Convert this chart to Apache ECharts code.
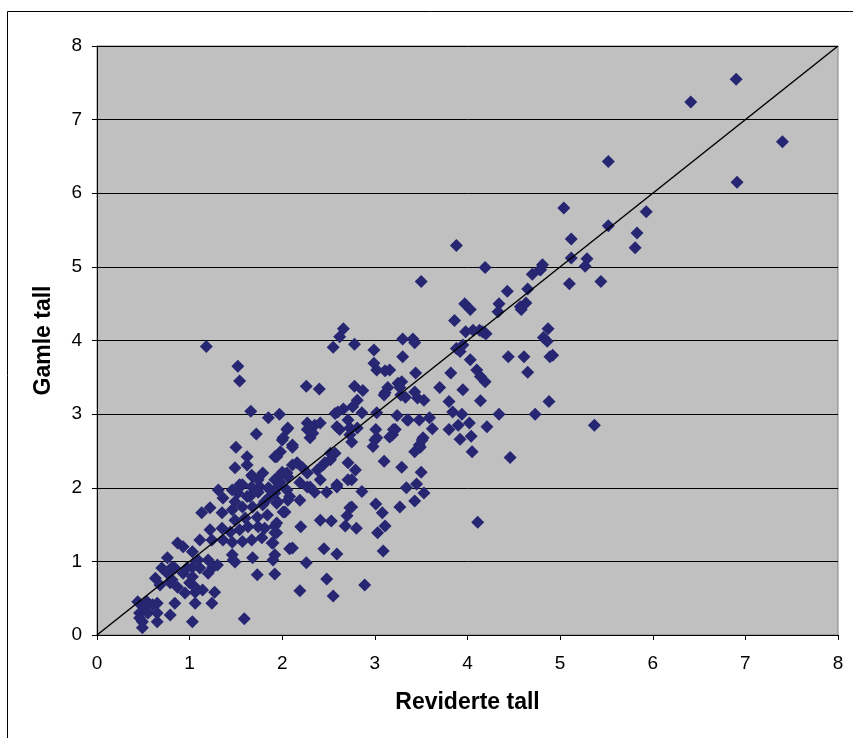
<!DOCTYPE html>
<html>
<head>
<meta charset="utf-8">
<script src="https://cdn.jsdelivr.net/npm/echarts@6/dist/echarts.min.js"></script>
<style>
  html, body { margin: 0; padding: 0; background: #fff; }
  #chart { width: 853px; height: 738px; }
</style>
</head>
<body>
<div id="chart"></div>
<script>
// reviderte tall (x) mot gamle tall (y)
var punkter = [
  [6.90,7.55],[6.41,7.24],[7.40,6.70],[6.91,6.15],[5.52,6.43],[5.04,5.80],[5.93,5.75],[5.52,5.56],
  [5.12,5.38],[5.83,5.46],[5.81,5.26],[4.81,5.03],[4.78,4.96],[5.12,5.12],[5.29,5.11],[5.27,5.01],
  [5.10,4.77],[5.44,4.80],[4.87,4.16],[4.82,4.04],[4.86,3.99],[4.89,3.78],[4.92,3.80],[4.88,3.17],
  [5.37,2.85],
  [3.88,5.29],[4.19,4.99],[3.50,4.80],[4.70,4.90],[4.79,4.96],[4.65,4.70],[4.43,4.67],[3.97,4.50],
  [4.03,4.42],[4.34,4.50],[4.33,4.39],[4.57,4.46],[4.63,4.51],[4.58,4.42],[3.86,4.27],[3.98,4.12],
  [4.06,4.14],[4.19,4.10],[4.13,4.14],[4.20,4.09],[4.16,4.12],[3.88,3.89],[3.95,3.94],[3.92,3.85],
  [4.03,3.74],[4.44,3.78],[4.61,3.78],[3.30,4.02],[3.41,4.02],[3.43,3.97],[3.30,3.78],[4.65,3.57],
  [3.44,3.56],[3.82,3.56],[4.10,3.60],[4.14,3.51],[4.19,3.44],[3.29,3.44],[3.70,3.36],[3.95,3.33],
  [3.43,3.30],[3.46,3.22],[3.53,3.19],[3.33,3.23],[4.14,3.18],[3.80,3.17],[3.84,3.03],[3.94,3.00],
  [3.35,2.92],[3.48,2.92],[3.59,2.95],[4.34,3.00],[4.73,3.00],[3.62,2.80],[3.80,2.79],[3.90,2.85],
  [4.02,2.88],[4.21,2.83],[4.04,2.70],[3.92,2.66],[3.52,2.68],[3.49,2.55],[3.43,2.49],[4.05,2.49],
  [4.46,2.41],[3.29,2.28],[3.50,2.21],[4.11,1.53],
  [2.26,3.38],[2.40,3.34],[2.78,3.38],[2.87,3.32],[3.11,3.29],[3.14,3.36],[3.25,3.42],[3.28,3.26],
  [1.97,3.00],[2.57,3.01],[2.66,3.07],[2.71,2.92],[2.81,3.19],[2.86,3.02],[3.02,3.02],[3.24,2.98],
  [3.36,2.92],[2.27,2.88],[2.33,2.74],[2.41,2.88],[2.30,2.68],[2.05,2.79],[2.00,2.65],[2.11,2.58],
  [2.62,2.79],[2.73,2.81],[2.75,2.62],[3.01,2.79],[3.00,2.65],[2.98,2.56],[3.19,2.72],[3.22,2.79],
  [3.48,2.58],[1.92,2.42],[1.98,2.49],[2.44,2.31],[2.52,2.38],[2.71,2.34],[2.79,2.24],[2.75,2.11],
  [3.10,2.36],[3.45,2.05],[3.34,2.00],[3.53,1.93],[3.43,1.82],[2.86,1.95],[2.59,2.01],[2.48,1.94],
  [2.27,2.01],[2.19,1.83],[1.92,1.93],[2.01,1.67],[2.73,1.73],[2.70,1.62],[2.68,1.48],[2.80,1.45],
  [3.01,1.78],[3.08,1.66],[3.11,1.48],[3.03,1.39],[2.41,1.56],[2.53,1.55],[2.20,1.47],[1.92,1.48],
  [1.92,1.39],[1.90,1.25],[2.08,1.17],[2.45,1.17],[2.59,1.10],[3.09,1.14],[2.26,0.98],[1.92,0.83],
  [2.48,0.76],[2.89,0.68],[2.19,0.60],[2.55,0.53],
  [2.66,4.16],[2.62,4.05],[2.55,3.91],[2.78,3.95],[2.99,3.87],[2.99,3.69],[3.02,3.60],[3.11,3.59],
  [3.16,3.60],[2.76,3.10],[2.60,3.03],[3.10,3.26],[3.27,3.36],[1.66,3.04],[1.85,2.95],[2.35,2.85],
  [2.81,2.81],[2.73,2.72],[3.02,2.68],[3.20,2.79],[3.16,2.69],[3.51,2.65],[1.72,2.73],[2.06,2.81],
  [2.01,2.68],[2.27,2.79],[1.50,2.55],[1.62,2.42],[1.62,2.31],[1.49,2.27],[2.16,2.34],[2.22,2.27],
  [2.52,2.47],[2.46,2.34],[2.71,2.11],[2.59,2.04],[1.79,2.20],[1.68,2.15],[2.05,2.20],[1.92,2.11],
  [2.38,2.24],[2.27,2.20],[2.41,2.11],[2.19,2.07],[2.30,2.01],[1.54,2.04],[1.76,2.01],[1.87,1.97],
  [1.98,2.07],[2.05,1.97],[1.49,1.81],[1.65,1.88],[1.81,1.81],[1.95,1.81],[2.08,1.88],[2.35,1.94],
  [2.75,1.74],[3.27,1.74],
  [1.18,3.92],[1.52,3.65],[1.54,3.45],[2.59,2.83],[2.57,2.47],
  [1.94,2.42],[2.11,2.55],[1.67,2.17],[1.74,2.11],[2.11,2.31],[2.00,2.21],[1.94,2.13],[2.06,2.15],
  [1.67,2.01],[1.57,2.04],[1.46,1.97],[1.31,1.97],[1.36,1.86],[1.52,1.93],[1.62,1.88],[1.74,1.94],
  [1.85,2.00],[1.95,2.01],[1.85,1.86],[1.94,1.79],[2.06,1.83],[2.03,1.67],[1.22,1.73],[1.13,1.66],
  [1.35,1.66],[1.46,1.70],[1.57,1.74],[1.68,1.74],[1.79,1.77],[1.49,1.56],[1.60,1.59],[1.73,1.60],
  [1.84,1.63],[1.94,1.52],[1.94,1.39],[1.89,1.25],[1.92,1.09],[2.11,1.18],[1.22,1.43],[1.35,1.45],
  [1.44,1.40],[1.54,1.43],[1.63,1.47],[1.74,1.47],[1.81,1.45],[1.11,1.29],[1.24,1.29],[1.36,1.29],
  [1.46,1.26],[1.57,1.27],[1.67,1.29],[1.78,1.32],[1.46,1.09],[1.49,0.99],[1.68,1.05],[1.73,0.82],
  [0.93,1.20],[1.03,1.13],[0.87,1.25],[1.09,1.02],[1.20,1.02],[1.25,0.92],[1.03,0.92],[0.76,1.05],
  [0.81,0.92],[0.70,0.91],[0.63,0.77],[0.81,0.75],[0.93,0.84],[1.00,0.71],[0.87,0.65],[1.06,0.58],
  [1.14,0.61],[1.27,0.58],[1.24,0.43],[1.06,0.43],[0.84,0.43],[0.79,0.27],[1.03,0.18],[1.59,0.22],
  [0.44,0.45],[0.50,0.38],[0.55,0.43],[0.60,0.41],[0.46,0.30],[0.55,0.30],[0.65,0.30],[0.49,0.18],
  [0.65,0.18],[0.49,0.10],
  [0.76,0.84],[0.79,0.71],[0.68,0.68],[0.84,0.91],[0.97,0.91],[1.03,0.79],[1.06,0.65],[0.95,0.57],
  [1.11,0.91],[1.20,0.84],[1.30,0.95],[0.54,0.45],[0.65,0.43],[0.46,0.23],[1.47,1.02],[1.90,1.02]
];
var diagonal = [[0,0],[8,8]];
var xNavn = 'Reviderte tall';
var yNavn = 'Gamle tall';

var myChart = echarts.init(document.getElementById('chart'), null, {renderer: 'canvas'});
var fontFam = '"Liberation Sans", Arial, sans-serif';
var option = {
    animation: false,
    backgroundColor: '#ffffff',
    graphic: [{
        type: 'rect',
        shape: {x: 7.5, y: 11.5, width: 900, height: 800},
        style: {fill: 'none', stroke: '#000', lineWidth: 1},
        silent: true,
        z: -1
    }],
    grid: {
        left: 97,
        right: 15,
        top: 46,
        bottom: 103,
        show: true,
        backgroundColor: '#c0c0c0',
        borderColor: '#808080',
        borderWidth: 1
    },
    xAxis: {
        type: 'value',
        min: 0, max: 8, interval: 1,
        name: xNavn,
        nameLocation: 'middle',
        nameGap: 56,
        nameTextStyle: {fontFamily: fontFam, fontSize: 23, fontWeight: 'bold', color: '#000'},
        axisLine: {show: true, onZero: false, lineStyle: {color: '#000', width: 1}},
        axisTick: {show: true, length: 5, lineStyle: {color: '#000'}},
        axisLabel: {fontFamily: fontFam, fontSize: 19, color: '#000', margin: 19},
        splitLine: {show: false}
    },
    yAxis: {
        type: 'value',
        min: 0, max: 8, interval: 1,
        name: yNavn,
        nameLocation: 'middle',
        nameGap: 42,
        nameTextStyle: {fontFamily: fontFam, fontSize: 23, fontWeight: 'bold', color: '#000'},
        axisLine: {show: true, onZero: false, lineStyle: {color: '#000', width: 1}},
        axisTick: {show: true, length: 5, lineStyle: {color: '#000'}},
        axisLabel: {fontFamily: fontFam, fontSize: 19, color: '#000', margin: 15},
        splitLine: {show: true, lineStyle: {color: '#000', width: 1}}
    },
    series: [
        {
            name: 'punkter',
            type: 'scatter',
            symbol: 'diamond',
            symbolSize: 13,
            itemStyle: {color: '#262673', opacity: 1},
            data: punkter,
            z: 2
        },
        {
            name: 'diagonal',
            type: 'line',
            data: diagonal,
            symbol: 'none',
            lineStyle: {color: '#000', width: 1.5},
            z: 3
        }
    ]
};
myChart.setOption(option);
</script>
</body>
</html>
